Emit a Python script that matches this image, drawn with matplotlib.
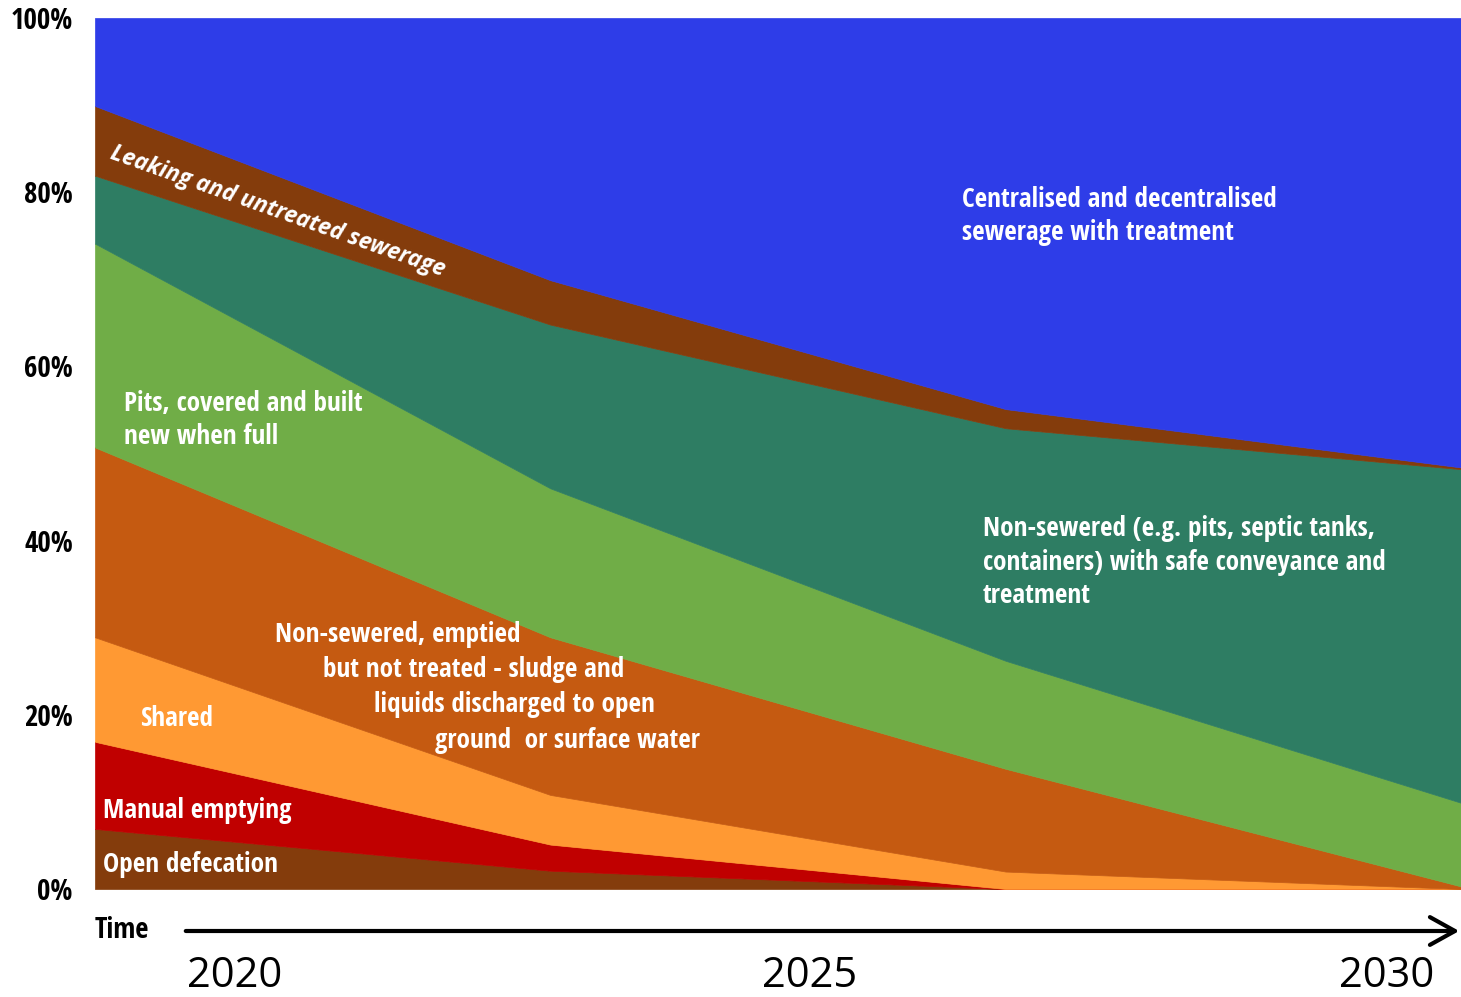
import matplotlib
matplotlib.use("Agg")
import matplotlib.pyplot as plt
from matplotlib.patches import FancyArrowPatch

# four stages along the timeline, shares in percent (bottom layer first)
stages = [0, 1, 2, 3]
open_defecation = [6.9, 2.1, 0.0, 0.0]
manual_emptying = [10.0, 3.0, 0.0, 0.0]
shared = [12.0, 5.7, 2.0, 0.0]
emptied_untreated = [21.8, 18.1, 11.8, 0.3]
pits_covered = [23.4, 17.1, 12.4, 9.6]
nonsewered_safe = [7.8, 18.8, 26.7, 38.3]
leaking_sewerage = [8.0, 5.1, 2.2, 0.2]
sewerage_treated = [10.1, 30.1, 44.9, 51.6]

yticks = [0, 20, 40, 60, 80, 100]
years = ["2020", "2025", "2030"]

colors = ["#843C0C", "#C00000", "#FF9933", "#C55A11",
          "#70AD47", "#2E7D63", "#843C0C", "#2E3DE8"]

narrow = ["Open Sans Condensed", "DejaVu Sans"]

W, H = 1461, 997
fig = plt.figure(figsize=(W / 100, H / 100), dpi=100)
ax = fig.add_axes([95 / W, 1 - 889 / H, 1 - 95 / W, (889 - 18) / H])

ax.stackplot(stages, open_defecation, manual_emptying, shared, emptied_untreated,
             pits_covered, nonsewered_safe, leaking_sewerage, sewerage_treated,
             colors=colors, edgecolor="face", linewidth=0.5)
ax.set_xlim(0, 3)
ax.set_ylim(0, 100)
ax.set_xticks([])
ax.set_yticks(yticks)
ax.set_yticklabels([f"{t}%" for t in yticks], fontfamily=narrow,
                   fontweight="bold", fontsize=21)
ax.tick_params(axis="y", length=0, pad=16)
for s in ax.spines.values():
    s.set_visible(False)


def ftext(px, py, s, **kw):
    opts = dict(color="white", fontweight="bold", fontsize=19.5,
                fontfamily=narrow, va="center", ha="left")
    opts.update(kw)
    fig.text(px / W, 1 - py / H, s, **opts)


# series labels
ftext(962, 216, "Centralised and decentralised\nsewerage with treatment",
      linespacing=1.33)
ftext(983, 562, "Non-sewered (e.g. pits, septic tanks,\ncontainers) with safe conveyance and\ntreatment",
      linespacing=1.33)
ftext(124, 420, "Pits, covered and built\nnew when full", linespacing=1.33)
ftext(275, 635, "Non-sewered, emptied")
ftext(323, 669, "but not treated - sludge and")
ftext(374, 704, "liquids discharged to open")
ftext(435, 740, "ground  or surface water")
ftext(140, 718, "Shared")
ftext(103, 810, "Manual emptying")
ftext(103, 864, "Open defecation")
ftext(278, 212, "Leaking and untreated sewerage", ha="center",
      rotation=-19.5, rotation_mode="anchor", fontfamily="Open Sans",
      fontstyle="italic", fontsize=16.5)

# time axis
ftext(95, 930, "Time", color="black", fontsize=20.5)
fig.add_artist(FancyArrowPatch(
    (183 / W, 1 - 931 / H), (1462 / W, 1 - 931 / H),
    transform=fig.transFigure, arrowstyle="->,head_length=0.9,head_width=0.5",
    color="black", lw=3, mutation_scale=20))
for px, yr in zip([235, 810, 1387], years):
    fig.text(px / W, 1 - 976 / H, yr, ha="center", va="center",
             fontsize=30, fontfamily="Open Sans", color="black")

fig.savefig("out.png", dpi=100)
